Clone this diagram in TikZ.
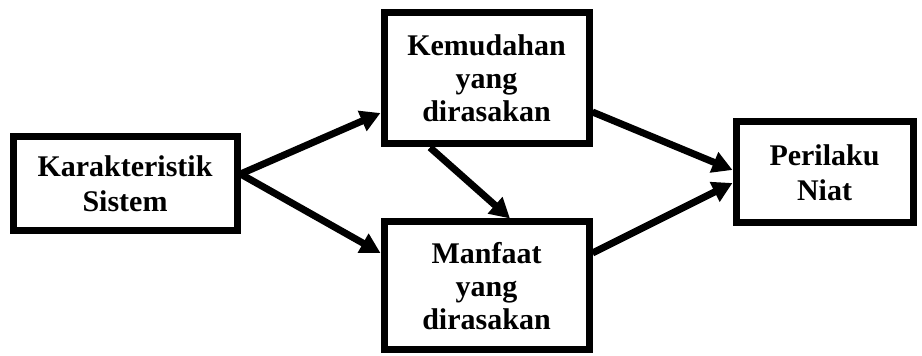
\documentclass[tikz,border=0pt]{standalone}
\usepackage{fontspec}
\setmainfont{Liberation Serif}
\usetikzlibrary{arrows.meta}
\begin{document}
\begin{tikzpicture}[x=1pt,y=1pt,
  varbox/.style={draw, line width=7pt, inner sep=0pt, align=center,
    font=\bfseries\fontsize{30}{33}\selectfont},
  twoline/.style={font=\bfseries\fontsize{30}{35}\selectfont},
  link/.style={line width=7pt, -{Triangle[length=20pt,width=21pt]}}]
  \useasboundingbox (0,0) rectangle (922,356);
  % variables
  \node[varbox, twoline, minimum width=224pt, minimum height=94pt] (kar) at (125,172) {Karakteristik\\Sistem};
  \node[varbox, minimum width=205pt, minimum height=131pt] (kem) at (486.5,277.5) {Kemudahan\\yang\\dirasakan};
  \node[varbox, minimum width=205pt, minimum height=128pt] (man) at (486.5,70) {Manfaat\\yang\\dirasakan};
  \node[varbox, twoline, minimum width=177pt, minimum height=101pt] (per) at (824.5,183.5) {Perilaku\\Niat};
  % relations
  \draw[link] ([yshift=10pt]kar.east) -- ([yshift=-34.5pt]kem.west);
  \draw[link] ([yshift=10pt]kar.east) -- ([yshift=33pt]man.west);
  \draw[link] ([xshift=-56.5pt]kem.south) -- ([xshift=23.5pt]man.north);
  \draw[link] ([yshift=-33.5pt]kem.east) -- ([yshift=2.5pt]per.west);
  \draw[link] ([yshift=33pt]man.east) -- ([yshift=-10.5pt]per.west);
\end{tikzpicture}
\end{document}
